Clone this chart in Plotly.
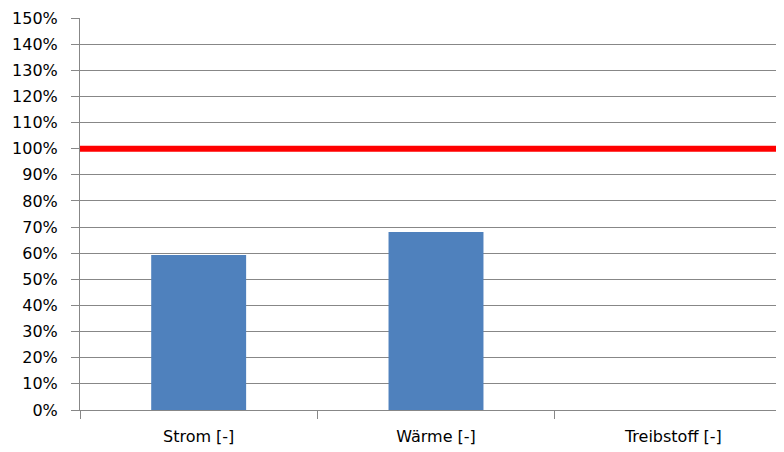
import plotly.graph_objects as go

categories = ["Strom [-]", "Wärme [-]", "Treibstoff [-]"]
values = [0.593, 0.681, 0.0]
target = 1.0
y_ticks = [i / 10 for i in range(16)]
y_tick_labels = [f"{i * 10}%" for i in range(16)]

grid = "#878787"
font = dict(family="DejaVu Sans", size=16, color="#000000")

fig = go.Figure()
fig.add_trace(go.Bar(x=categories, y=values, marker=dict(color="#4F81BD", line=dict(width=0)), width=0.4))

fig.add_shape(type="line", xref="paper", yref="y", x0=0, x1=1, y0=target, y1=target,
              line=dict(color="#FF0000", width=6), layer="above")

fig.update_layout(
    width=784, height=444,
    margin=dict(l=72, r=0, t=10, b=42),
    paper_bgcolor="white", plot_bgcolor="white",
    showlegend=False,
    font=font,
)
fig.update_xaxes(
    type="category", range=[-0.5, 2.5],
    showgrid=False, showline=True, linecolor=grid, linewidth=1,
    ticks="outside", tickson="boundaries", ticklen=8, tickcolor=grid, tickwidth=1,
    tickfont=font, zeroline=False, ticklabelstandoff=12,
)
fig.update_yaxes(
    range=[0, 1.5], tickvals=y_ticks, ticktext=y_tick_labels,
    showgrid=True, gridcolor=grid, gridwidth=1,
    showline=True, linecolor=grid, linewidth=1,
    ticks="outside", ticklen=8, tickcolor=grid, tickwidth=1,
    tickfont=font, zeroline=False, ticklabelstandoff=10,
)

fig.write_html("out.html")
